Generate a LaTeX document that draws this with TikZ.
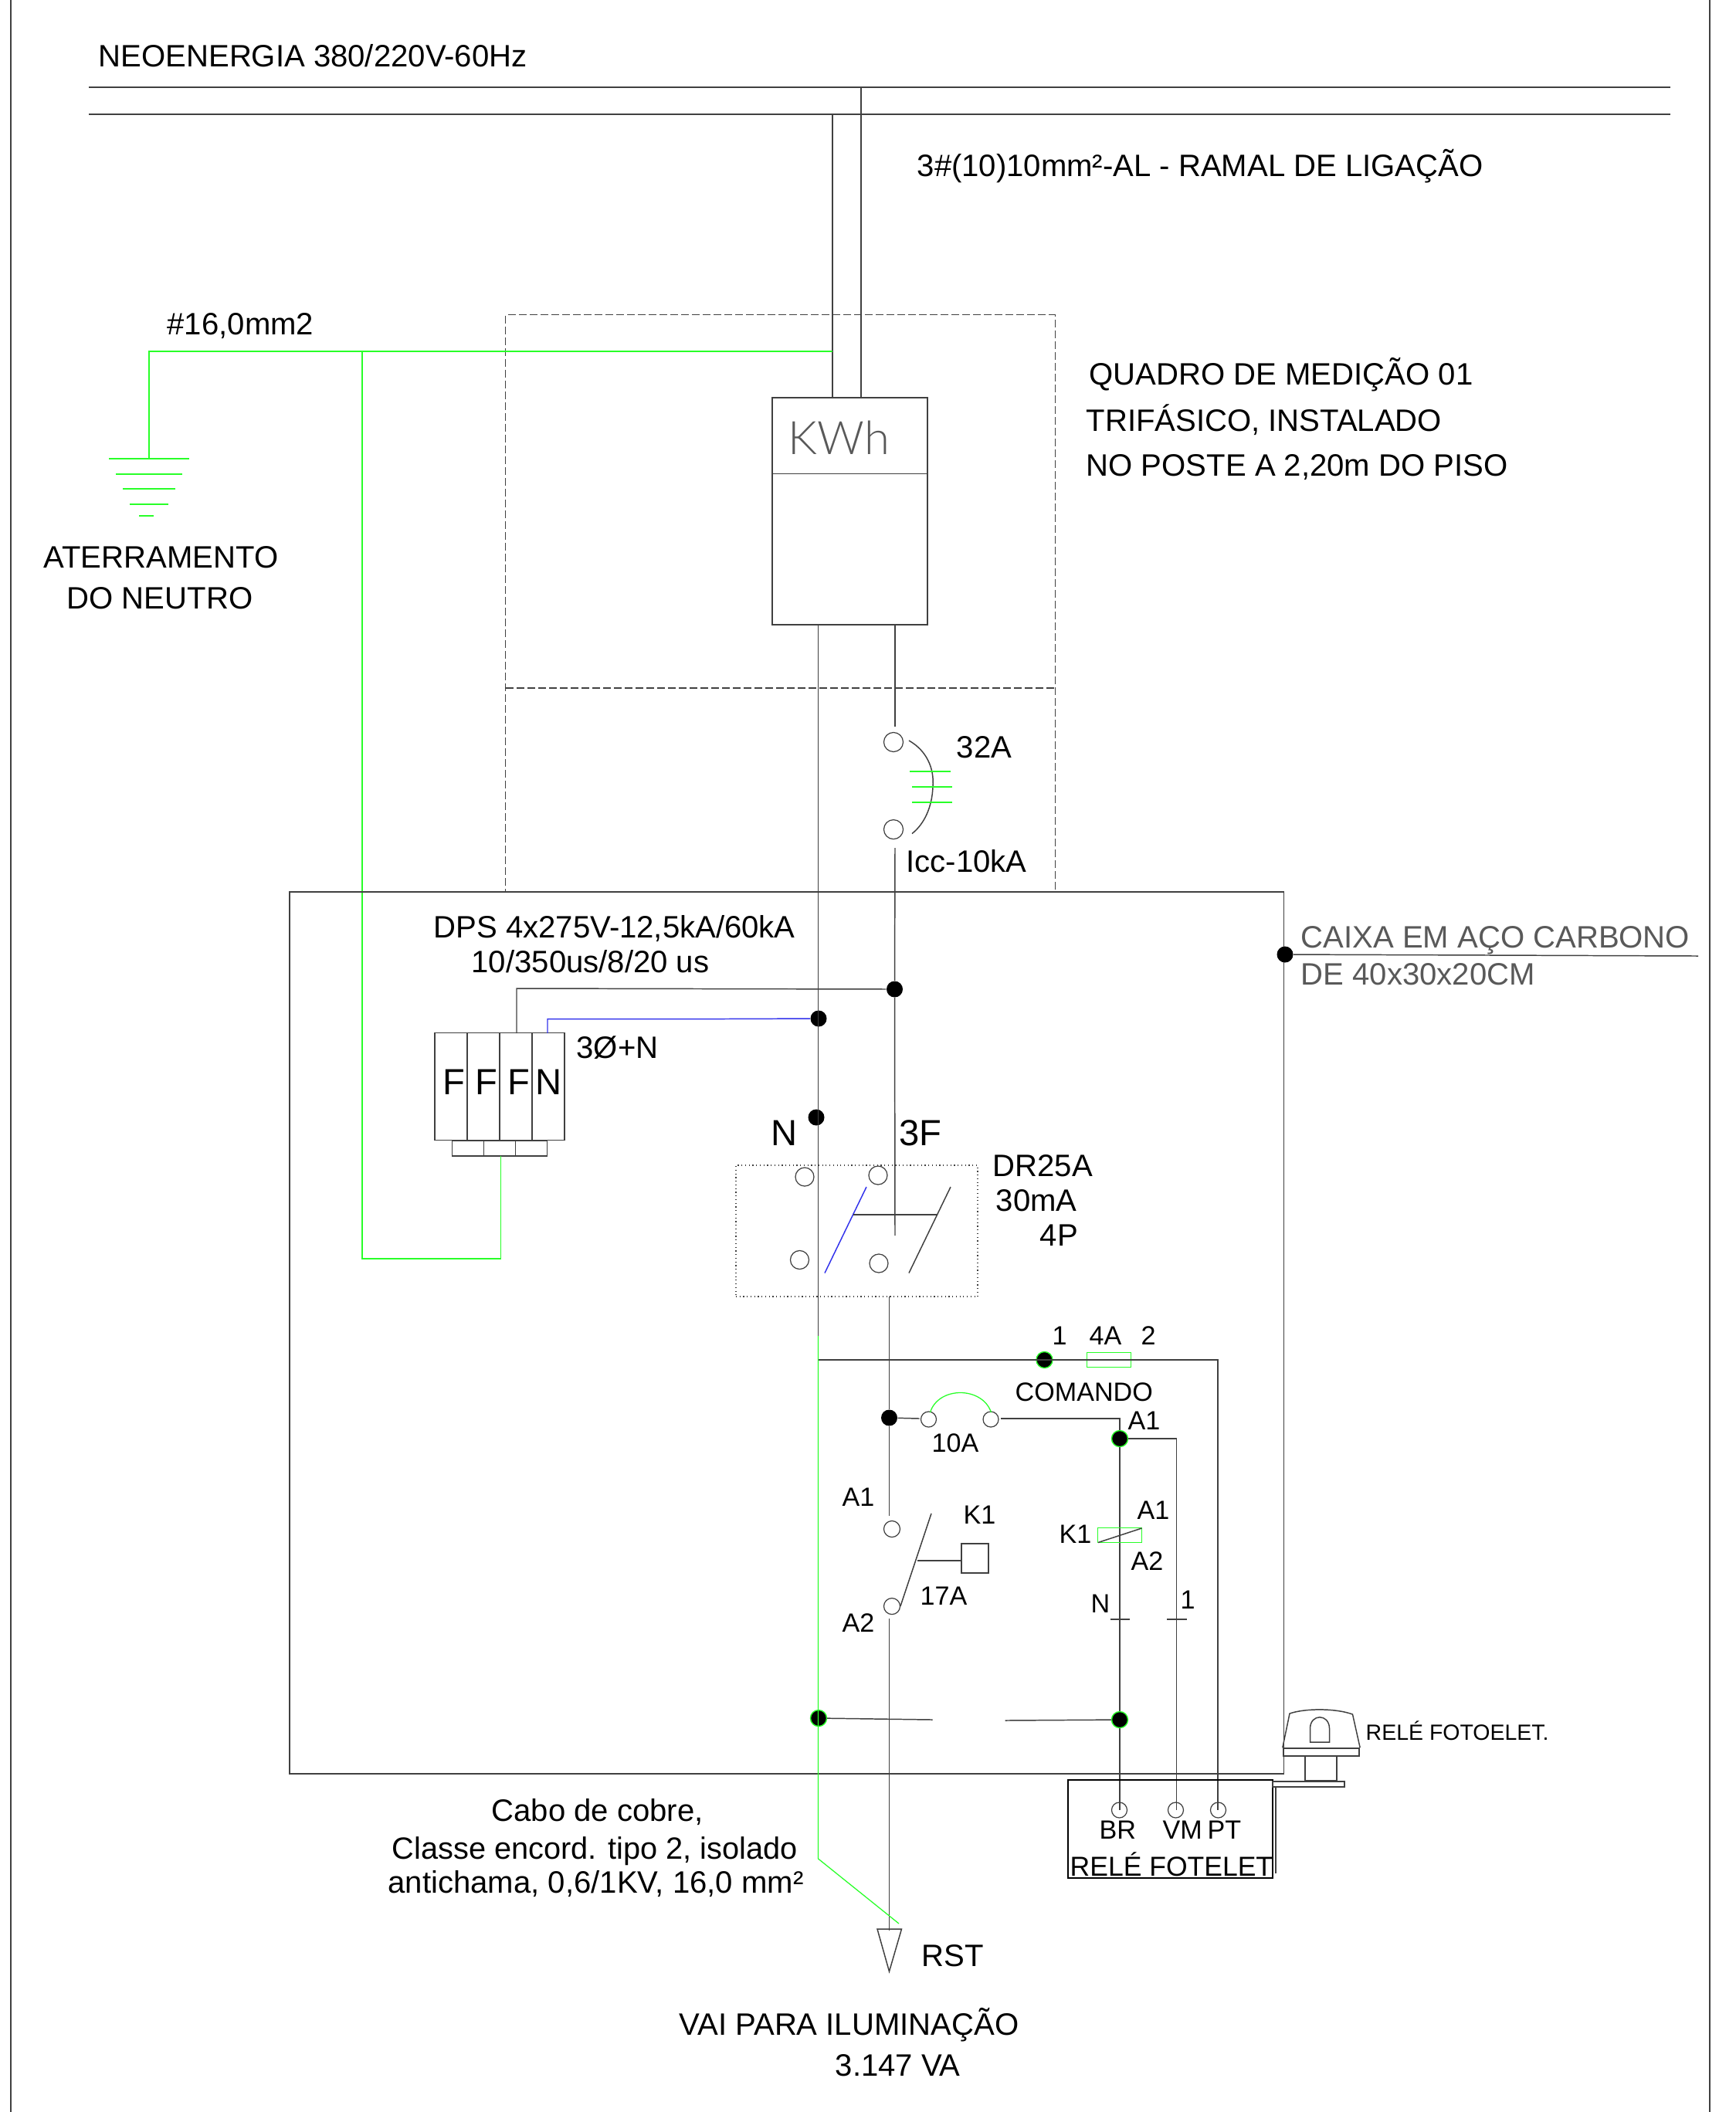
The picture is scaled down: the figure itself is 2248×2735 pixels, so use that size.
\documentclass[tikz,border=0pt]{standalone}
\usepackage{fontspec}
\setmainfont{Liberation Sans}
\newfontfamily\kwhfont{Lato Light}
\usepackage{tikz}
\usetikzlibrary{positioning}
\definecolor{terra}{RGB}{40,255,40}
\definecolor{neutro}{RGB}{50,50,235}
\definecolor{fio}{gray}{0.25}

\begin{document}
\begin{tikzpicture}
    [x=0.01cm, y=-0.01cm,
    wire/.style={draw=fio, line width=0.42pt},
    earth/.style={draw=terra, line width=0.36pt},
    blueline/.style={draw=neutro, line width=0.42pt},
    box/.style={rectangle, draw=fio, line width=0.5pt, inner sep=0pt},
    thinbox/.style={box, line width=0.3pt, dash pattern=on 0.1cm off 0.04cm},
    greenbox/.style={rectangle, draw=terra, line width=0.36pt, inner sep=0pt},
    dot/.style={circle, fill=black, inner sep=0pt, minimum size=0.21cm},
    gdot/.style={dot, draw=terra, line width=0.4pt},
    term/.style={circle, draw=fio, line width=0.35pt, inner sep=0pt, minimum size=0.25cm},
    smallterm/.style={term, minimum size=0.2cm},
    lbl/.style={anchor=base west, inner sep=0pt, text=black, font=\fontsize{11.4}{13}\selectfont},
    small/.style={lbl, font=\fontsize{9.7}{11}\selectfont},
    tiny/.style={lbl, font=\fontsize{8.1}{10}\selectfont},
    big/.style={lbl, font=\fontsize{13.4}{15}\selectfont},
    pole/.style={box, minimum width=0.42cm, text height=0.8cm, text depth=0.59cm, font=\fontsize{13.4}{15}\selectfont},
    foot/.style={box, minimum width=0.41cm, minimum height=0.205cm}]
    \useasboundingbox (0,0) rectangle (2248,2735);

    \coordinate (frameLT) at (14,0);
    \coordinate (frameLB) at (14,2735);
    \coordinate (frameRT) at (2214,0);
    \coordinate (frameRB) at (2214,2735);
    \coordinate (redeAL) at (115,113);
    \coordinate (redeAR) at (2163,113);
    \coordinate (redeBL) at (115,148);
    \coordinate (redeBR) at (2163,148);
    \coordinate (ramalA) at (1115,113);
    \coordinate (ramalB) at (1078,148);
    \draw [wire] (frameLT) -- (frameLB);
    \draw [wire] (frameRT) -- (frameRB);
    \draw [wire] (redeAL) -- (redeAR);
    \draw [wire] (redeBL) -- (redeBR);

    \node [lbl] (rede) at (127,86) {NEOENERGIA 380/220V-60Hz};
    \node [lbl] (ramal) at (1187,228) {3\#(10)10mm²-AL - RAMAL DE LIGAÇÃO};
    \node [lbl] (secao) at (216,433) {\#16,0mm2};
    \node [lbl] (quadro1) at (1410,498) {QUADRO DE MEDIÇÃO 01};
    \node [lbl] (quadro2) at (1406,558) {TRIFÁSICO, INSTALADO};
    \node [lbl] (quadro3) at (1406,616) {NO POSTE A 2,20m DO PISO};
    \node [lbl] (aterr1) at (56,735) {ATERRAMENTO};
    \node [lbl] (aterr2) at (86,788) {DO NEUTRO};

    \node [thinbox, minimum width=7.11cm, minimum height=7.47cm] (medicao) at (1010.5,781.5) {};
    \coordinate (medL) at (655,891);
    \coordinate (medR) at (1366,891);
    \draw [wire, line width=0.3pt, dash pattern=on 0.1cm off 0.04cm] (medL) -- (medR);

    \node [box, minimum width=2.01cm, minimum height=2.935cm] (meter) at (1100.5,662) {};
    \coordinate (meterL) at (1000,613.5);
    \coordinate (meterR) at (1201,613.5);
    \draw [wire] (meterL) -- (meterR);
    \node [anchor=base, inner sep=0pt, text=black!65, font=\fontsize{17}{20}\kwhfont] (kwh) at (1086.5,588) {KWh};
    \coordinate (ramalAend) at (1115,515.5);
    \coordinate (ramalBend) at (1078,515.5);
    \draw [wire] (ramalA) -- (ramalAend);
    \draw [wire] (ramalB) -- (ramalBend);

    \coordinate (terraT) at (193,455);
    \coordinate (terraB) at (193,594);
    \coordinate (terraJ) at (469,455);
    \coordinate (terraE) at (1078,455);
    \coordinate (dpsC) at (469,1630);
    \coordinate (dpsD) at (648.5,1630);
    \draw [earth] (terraB) -- (terraT) -- (terraE);
    \draw [earth] (terraJ) -- (dpsC) -- (dpsD);
    \foreach \y/\a/\b in {594/141/245, 614/150/236, 633/159/227, 653/168/218, 668/180/199}
        \draw [earth] (\a,\y) -- (\b,\y);

    \coordinate (nA) at (1059.5,809);
    \coordinate (fA) at (1159,809);
    \coordinate (fB) at (1159,941);
    \coordinate (fC) at (1159,1098);
    \node [term] (cb1) at (1157,961) {};
    \node [term, below of=cb1, node distance=1.13cm] (cb2) {};
    \coordinate (cbarcA) at (1177,959);
    \coordinate (cbarcB) at (1181,1079.5);
    \draw [wire] (cbarcA) .. controls (1200,972) and (1210,995) .. (1208,1019) .. controls (1207,1045) and (1197,1067) .. (cbarcB);
    \foreach \y/\a/\b in {999/1178/1231, 1019/1181/1233, 1039/1181/1233}
        \draw [earth] (\a,\y) -- (\b,\y);
    \node [lbl] (cb32) at (1238,981) {32A};
    \node [lbl] (icc) at (1173,1129) {Icc-10kA};

    \node [box, minimum width=12.87cm, minimum height=11.42cm] (caixa) at (1018.5,1726) {};
    \node [dot] (caixaDot) at (1664,1236) {};
    \coordinate (caixaEnd) at (2199,1238);
    \draw [wire] (caixaDot) -- (caixaEnd);
    \node [lbl, text=black!65] (caixa1) at (1684,1227) {CAIXA EM AÇO CARBONO};
    \node [lbl, text=black!65] (caixa2) at (1684,1275) {DE 40x30x20CM};

    \node [lbl] (dps1) at (561,1214) {DPS 4x275V-12,5kA/60kA};
    \node [lbl] (dps2) at (610,1259) {10/350us/8/20 us};
    \node [lbl] (dps3) at (746,1370) {3Ø+N};
    \node [pole] (poleA) at (584,1407) {\kern2pt F};
    \node [pole, right of=poleA, node distance=0.42cm] (poleB) {\kern2pt F};
    \node [pole, right of=poleB, node distance=0.42cm] (poleC) {\kern2pt F};
    \node [pole, right of=poleC, node distance=0.42cm] (poleD) {N};
    \node [foot] (footA) at (606,1487) {};
    \node [foot, right of=footA, node distance=0.41cm] (footB) {};
    \node [foot, right of=footB, node distance=0.41cm] (footC) {};
    \coordinate (dpsE) at (648.5,1497);
    \draw [earth] (dpsE) -- (dpsD);

    \node [dot] (fDot) at (1158.5,1281) {};
    \node [dot] (nDot) at (1060,1319) {};
    \node [dot] (nDot2) at (1057,1447) {};
    \coordinate (dpsF) at (669,1280);
    \coordinate (dpsFb) at (669,1338);
    \coordinate (dpsN) at (709,1338);
    \coordinate (dpsNa) at (709,1319.5);
    \coordinate (dpsNb) at (936,1319.5);
    \draw [wire] (fDot) -- (dpsF) -- (dpsFb);
    \draw [blueline] (dpsN) -- (dpsNa) -- (dpsNb) -- (nDot);
    \node [big] (nLabel) at (998,1483) {N};
    \node [big] (fLabel) at (1164,1483) {3F};

    \node [box, line width=0.35pt, densely dotted, minimum width=3.13cm, minimum height=1.7cm] (dr) at (1109.5,1594) {};
    \node [term, minimum size=0.24cm] (dr1) at (1042,1524) {};
    \node [term, minimum size=0.24cm] (dr2) at (1137,1522) {};
    \node [term, minimum size=0.24cm] (dr3) at (1035.5,1631.5) {};
    \node [term, minimum size=0.24cm] (dr4) at (1138,1636) {};
    \coordinate (bladeAt) at (1122,1537);
    \coordinate (bladeAb) at (1068,1648.5);
    \coordinate (bladeBt) at (1231,1537);
    \coordinate (bladeBb) at (1177,1648.5);
    \coordinate (bladeAm) at (1105,1573);
    \coordinate (bladeBm) at (1213.5,1573);
    \draw [blueline] (bladeAt) -- (bladeAb);
    \draw [wire] (bladeBt) -- (bladeBb);
    \draw [wire] (bladeAm) -- (bladeBm);
    \node [lbl] (dr25) at (1285,1523) {DR25A};
    \node [lbl] (dr30) at (1289,1568) {30mA};
    \node [lbl] (dr4p) at (1346,1613) {4P};

    \coordinate (fEnd) at (1159,1600);
    \coordinate (nGreen) at (1059.5,1730);
    \draw [wire] (fA) -- (fB);
    \draw [wire] (fC) -- (fDot) -- (fEnd);
    \draw [wire] (nA) -- (nGreen);

    \coordinate (cmdA) at (1059.5,1761);
    \coordinate (cmdB) at (1577,1761);
    \coordinate (cmdC) at (1577,2344);
    \node [gdot] (cmdDot) at (1352.5,1761) {};
    \node [greenbox, minimum width=0.57cm, minimum height=0.19cm] (fuse) at (1436,1761) {};
    \node [small] (fuse1) at (1362,1741) {1};
    \node [small] (fuse4a) at (1410,1741) {4A};
    \node [small] (fuse2) at (1477,1741) {2};
    \node [small] (comando) at (1314,1814) {COMANDO};
    \draw [wire] (cmdA) -- (cmdB) -- (cmdC);

    \coordinate (busA) at (1151.5,1679);
    \coordinate (busB) at (1151.5,1963);
    \coordinate (busC) at (1151.5,2096);
    \coordinate (busD) at (1151.5,2500);
    \node [dot] (busDot) at (1151.5,1836) {};
    \draw [wire] (busA) -- (busDot) -- (busB);
    \draw [wire] (busC) -- (busD);

    \node [smallterm] (dj1) at (1202.5,1838) {};
    \node [smallterm, right of=dj1, node distance=0.805cm] (dj2) {};
    \coordinate (djarcA) at (1204.5,1829);
    \coordinate (djarcB) at (1283.5,1829);
    \draw [earth] (djarcA) .. controls (1215,1795) and (1272,1795) .. (djarcB);
    \coordinate (djIn) at (1190.5,1837);
    \coordinate (djOut) at (1296,1837);
    \coordinate (djCorner) at (1450,1837);
    \draw [wire] (busDot) -- (djIn);
    \node [small] (dj10) at (1206,1880) {10A};
    \node [small] (a1top) at (1460,1851) {A1};

    \node [gdot] (coilDot) at (1450,1863) {};
    \coordinate (brEnd) at (1450,2344);
    \coordinate (vmCorner) at (1523.5,1863);
    \coordinate (vmEnd) at (1523.5,2344);
    \draw [wire] (djOut) -- (djCorner) -- (coilDot) -- (brEnd);
    \draw [wire] (coilDot) -- (vmCorner) -- (vmEnd);
    \node [greenbox, minimum width=0.57cm, minimum height=0.19cm] (coil) at (1450,1988) {};
    \coordinate (coilA) at (1422,1997.5);
    \coordinate (coilB) at (1478.5,1979);
    \draw [wire] (coilA) -- (coilB);
    \node [small] (k1b) at (1371,1998) {K1};
    \node [small] (a1b) at (1472,1967) {A1};
    \node [small] (a2b) at (1464,2033) {A2};
    \node [small] (nb) at (1412,2088) {N};
    \node [small] (oneb) at (1528,2083) {1};
    \coordinate (tickNl) at (1437.5,2097);
    \coordinate (tickNr) at (1463,2097);
    \coordinate (tickFl) at (1511,2097);
    \coordinate (tickFr) at (1537,2097);
    \draw [wire] (tickNl) -- (tickNr);
    \draw [wire] (tickFl) -- (tickFr);

    \node [term, minimum size=0.21cm] (k1a) at (1155,1980) {};
    \node [term, minimum size=0.21cm, below of=k1a, node distance=1cm] (k1c) {};
    \coordinate (k1bladeT) at (1206,1960);
    \coordinate (k1bladeB) at (1166,2080);
    \coordinate (k1arm) at (1187.5,2021);
    \draw [wire] (k1bladeT) -- (k1bladeB);
    \node [box, minimum width=0.355cm, minimum height=0.38cm] (k1box) at (1262.5,2018) {};
    \draw [wire] (k1arm) -- (k1arm -| k1box.west);
    \node [small] (a1a) at (1090,1950) {A1};
    \node [small] (a2a) at (1090,2113) {A2};
    \node [small] (k1t) at (1247,1973) {K1};
    \node [small] (a17) at (1191,2078) {17A};

    \node [gdot] (botL) at (1060,2225) {};
    \node [gdot] (botR) at (1450,2227) {};
    \coordinate (botLe) at (1207.5,2227);
    \coordinate (botRe) at (1301.5,2228);
    \draw [wire] (botL) -- (botLe);
    \draw [wire] (botRe) -- (botR);

    \coordinate (greenD) at (1059.5,2407);
    \coordinate (greenE) at (1164,2491);
    \draw [earth] (nGreen) -- (greenD) -- (greenE);

    \coordinate (tipL) at (1136,2498);
    \coordinate (tipR) at (1167.5,2498);
    \coordinate (tipB) at (1151.5,2553);
    \draw [wire] (tipL) -- (tipR) -- (tipB) -- cycle;
    \node [lbl] (rst) at (1193,2546) {RST};

    \node [box, draw=black, minimum width=2.647cm, minimum height=1.27cm] (rele) at (1515.4,2368.8) {};
    \node [smallterm] (brTerm) at (1449.5,2344) {};
    \node [smallterm] (vmTerm) at (1522.5,2344) {};
    \node [smallterm] (ptTerm) at (1577.5,2344) {};
    \node [small] (br) at (1423,2381) {BR};
    \node [small] (vm) at (1505,2381) {VM};
    \node [small] (pt) at (1563,2381) {PT};
    \node [lbl, font=\fontsize{10.1}{12}\selectfont] (releTxt) at (1385,2429) {RELÉ FOTELET};
    \node [tiny] (foto) at (1768,2253) {RELÉ FOTOELET.};
    \coordinate (sideT) at (1652,2314);
    \coordinate (sideB) at (1652,2426);
    \draw [wire] (sideT) -- (sideB);

    \node [box, minimum width=0.931cm, minimum height=0.075cm] (arm) at (1694.3,2310.4) {};
    \node [box, minimum width=0.415cm, minimum height=0.32cm] (stem) at (1710.6,2290) {};
    \node [box, minimum width=0.985cm, minimum height=0.1cm] (head) at (1711,2269) {};
    \draw [wire] (head.north west) -- (1670,2219) .. controls (1690,2212) and (1730,2212) .. (1751.5,2220) -- (head.north east);
    \draw [wire] (1696.5,2256) -- (1696.5,2238) .. controls (1697,2219) and (1721,2219) .. (1721.5,2238) -- (1721.5,2256) -- cycle;

    \node [lbl] (cabo1) at (636,2358) {Cabo de cobre,};
    \node [lbl, font=\fontsize{11.3}{13}\selectfont] (cabo2) at (507,2407) {Classe encord. tipo 2, isolado};
    \node [lbl] (cabo3) at (502,2451) {antichama, 0,6/1KV, 16,0 mm²};
    \node [lbl] (vai1) at (879,2635) {VAI PARA ILUMINAÇÃO};
    \node [lbl] (vai2) at (1081,2688) {3.147 VA};
\end{tikzpicture}
\end{document}
